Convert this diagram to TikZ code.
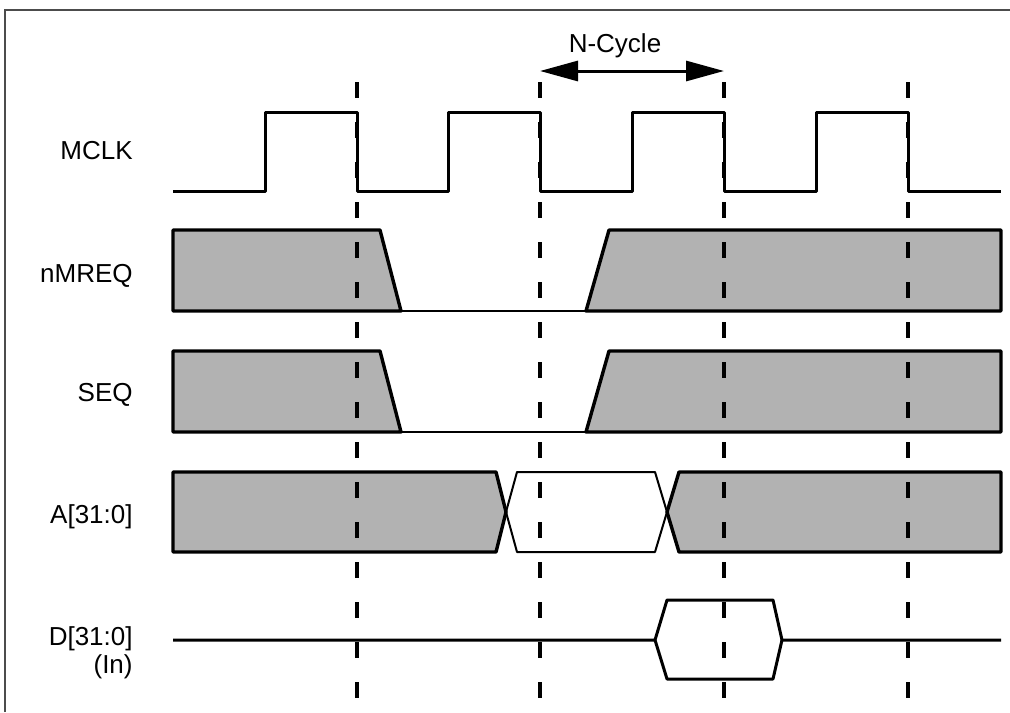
\documentclass[tikz,border=0pt]{standalone}
\usepackage{fontspec}
\setmainfont{Liberation Sans}
\usetikzlibrary{arrows.meta}
\definecolor{busgray}{gray}{0.7}
\tikzset{
  sig/.style={line width=1.5pt, line join=round},
  bus/.style={sig, line width=1.7pt, fill=busgray},
  thinsig/.style={line width=1pt, line join=round},
  clkedge/.style={line width=1.8pt, dash pattern=on 8pt off 12pt},
  siglabel/.style={anchor=base east, inner sep=0pt, font=\fontsize{13}{15}\selectfont},
  bigtip/.style={{Triangle[length=19pt,width=10pt]}-{Triangle[length=19pt,width=10pt]}}
}

\begin{document}
\begin{tikzpicture}[x=0.5pt,y=-0.5pt]
  \useasboundingbox (0,0) rectangle (1010,712);
  \draw[gray!60!black, line width=0.6pt] (5,712) -- (5,10) -- (1010,10);
  % labels
  \node[siglabel] (mclk) at (133,159) {MCLK};
  \node[siglabel] (nmreq) at (133,282) {nMREQ};
  \node[siglabel] (seq) at (133,401) {SEQ};
  \node[siglabel] (addr) at (133,523) {A[31:0]};
  \node[siglabel] (data) at (133,645) {D[31:0]};
  \node[siglabel] (datain) at (133,673) {(In)};
  % MCLK
  \draw[sig] (173,191) \foreach \x in {357,540,724,908} { -- (\x-92,191) -- (\x-92,112) -- (\x,112) -- (\x,191) } -- (1001,191);
  % nMREQ and SEQ
  \foreach \y in {230,351} {
    \filldraw[bus] (173,\y+81) -- (173,\y) -- (380,\y) -- (401,\y+81) -- cycle;
    \draw[thinsig] (401,\y+81) -- (586,\y+81);
    \filldraw[bus] (586,\y+81) -- (609,\y) -- (1001,\y) -- (1001,\y+81) -- cycle;
  }
  % A[31:0]
  \filldraw[bus] (173,552) -- (173,472) -- (496,472) -- (506,512) -- (496,552) -- cycle;
  \draw[thinsig] (506,512) -- (517,472) -- (655,472) -- (667,512) -- (655,552) -- (517,552) -- cycle;
  \filldraw[bus] (667,512) -- (679,472) -- (1001,472) -- (1001,552) -- (679,552) -- cycle;
  % D[31:0]
  \draw[sig] (173,640) -- (655,640) -- (667,600) -- (773,600) -- (782,640) -- (1001,640);
  \draw[sig] (655,640) -- (667,679) -- (773,679) -- (782,640);
  % edges
  \foreach \x in {357,540,724,908}
    \draw[clkedge] (\x,82) -- (\x,700);
  % N-Cycle
  \coordinate (ncstart) at (540,71);
  \coordinate (ncend) at (724,71);
  \draw[sig, bigtip] (ncstart) -- (ncend);
  \node[anchor=base, inner sep=0pt, font=\fontsize{13}{15}\selectfont] (ncycle) at (615,52) {N-Cycle};
\end{tikzpicture}
\end{document}
